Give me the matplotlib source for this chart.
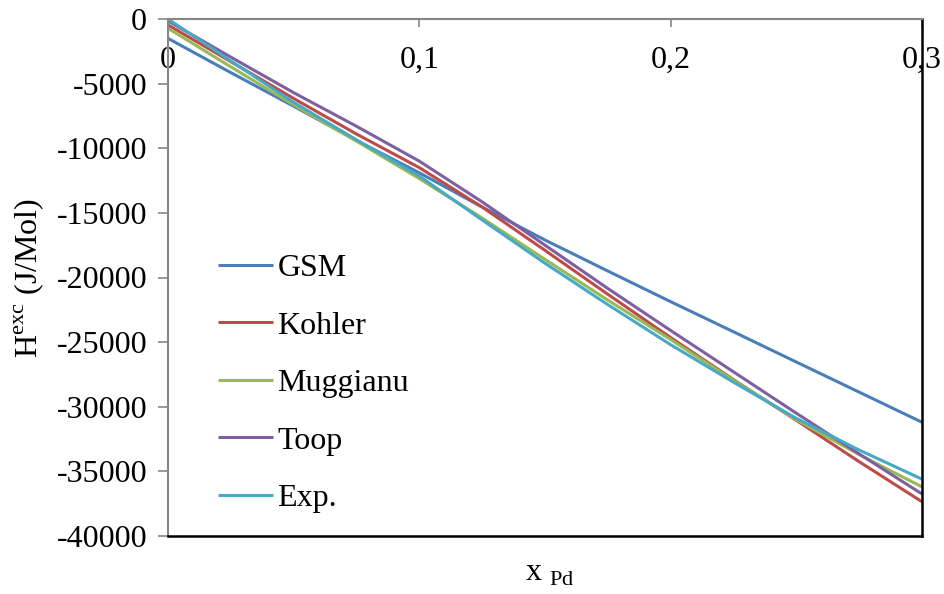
import matplotlib
matplotlib.use("Agg")
import matplotlib.pyplot as plt

x_pd = [0.0, 0.025, 0.05, 0.075, 0.1, 0.125, 0.15, 0.175, 0.2, 0.225, 0.25, 0.275, 0.3]
gsm = [-1500, -4150, -6750, -9400, -11900, -14550, -17100, -19500, -21870, -24200, -26540, -28870, -31200]
kohler = [-460, -3300, -6150, -8900, -11500, -14550, -17900, -21300, -24650, -27900, -31050, -34250, -37350]
muggianu = [-720, -3700, -6650, -9450, -12350, -15400, -18600, -21750, -24800, -27950, -31000, -33700, -36200]
toop = [-150, -2950, -5700, -8300, -11000, -14150, -17500, -20850, -24100, -27300, -30500, -33650, -36750]
exp_vals = [0, -3250, -6450, -9350, -12150, -15550, -18900, -22100, -25200, -28100, -30900, -33350, -35600]

series_names = ["GSM", "Kohler", "Muggianu", "Toop", "Exp."]
series_colors = ["#4A7EBB", "#BE4B48", "#98B954", "#7D60A0", "#46AAC5"]
x_ticks = [0, 0.1, 0.2, 0.3]
x_tick_labels = ["0", "0,1", "0,2", "0,3"]
y_ticks = list(range(-40000, 1, 5000))

plt.rcParams['font.family'] = ['Liberation Serif', 'DejaVu Serif']
FS = 23

fig = plt.figure(figsize=(9.45, 5.94), dpi=100)
ax = fig.add_axes([168/945, 1-536/594, (922-168)/945, (536-19)/594])

for vals, name, col in zip([gsm, kohler, muggianu, toop, exp_vals], series_names, series_colors):
    ax.plot(x_pd, vals, color=col, lw=2.2, label=name, solid_capstyle='butt', solid_joinstyle='round')

ax.set_xlim(0, 0.3)
ax.set_ylim(-40000, 0)

gray = "#868686"
ax.spines['top'].set_color(gray)
ax.spines['left'].set_color(gray)
ax.spines['top'].set_linewidth(1.5)
ax.spines['left'].set_linewidth(1.5)
ax.spines['bottom'].set_color('black')
ax.spines['right'].set_color('black')
ax.spines['bottom'].set_linewidth(1.8)
ax.spines['right'].set_linewidth(1.8)

ax.set_xticks(x_ticks)
ax.set_xticklabels(x_tick_labels)
ax.tick_params(axis='x', top=True, bottom=False, labeltop=True, labelbottom=False,
               direction='in', length=6, width=1.2, color=gray, pad=-40, labelsize=FS)
ax.set_yticks(y_ticks)
ax.set_yticklabels([str(v) for v in y_ticks])
ax.tick_params(axis='y', direction='out', length=7, width=1.2, color=gray, pad=8, labelsize=FS)

ax.set_xlabel(r"x $_{\mathregular{Pd}}$", fontsize=FS)
ax.xaxis.set_label_coords(0.507, -0.045, transform=ax.transAxes)
ax.xaxis.label.set_va('top')
ax.set_ylabel(r"H$^{\mathregular{exc}}$ (J/Mol)", fontsize=FS)
ax.yaxis.set_label_coords(-0.162, 0.5, transform=ax.transAxes)

ax.legend(loc='upper left', bbox_to_anchor=(0.0497, 0.5706), frameon=False, fontsize=FS,
          handlelength=1.7, handletextpad=0.15, labelspacing=0.88, borderaxespad=0)

fig.savefig("out.png", dpi=100)
